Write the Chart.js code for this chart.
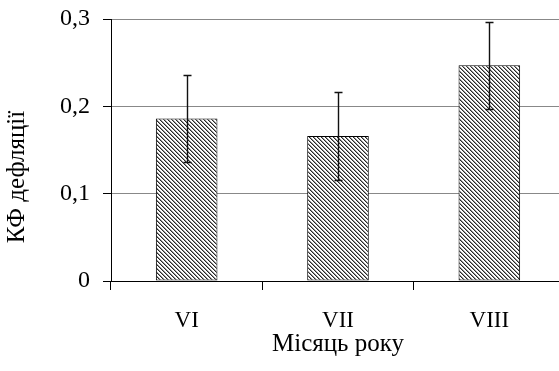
<!DOCTYPE html>
<html>
<head>
<meta charset="utf-8">
<script src="https://cdn.jsdelivr.net/npm/chart.js@4/dist/chart.umd.min.js"></script>
<style>
  html, body { margin: 0; padding: 0; background: #fff; overflow: hidden; }
  #wrap { width: 565px; height: 371px; }
</style>
</head>
<body>
<div id="wrap"><canvas id="c" width="565" height="371"></canvas></div>
<script>
// Deflation coefficient by month
const months = ['VI', 'VII', 'VIII'];
const kfValues = [0.186, 0.166, 0.247];
const kfErrors = [0.05, 0.05, 0.05];
const yTicks = [0, 0.1, 0.2, 0.3];

const FONT = "'Liberation Serif', 'Times New Roman', serif";

// Diagonal hatch fill (\\\ direction)
function makeHatch() {
  const t = document.createElement('canvas');
  t.width = 4; t.height = 4;
  const g = t.getContext('2d');
  const img = g.createImageData(4, 4);
  for (let y = 0; y < 4; y++) {
    for (let x = 0; x < 4; x++) {
      const d = ((x - y) % 4 + 4) % 4;
      let v = 255;
      if (d === 0) v = 40;
      else if (d === 1) v = 150;
      const i = (y * 4 + x) * 4;
      img.data[i] = v; img.data[i + 1] = v; img.data[i + 2] = v; img.data[i + 3] = 255;
    }
  }
  g.putImageData(img, 0, 0);
  return document.getElementById('c').getContext('2d').createPattern(t, 'repeat');
}

// Error bars drawn through the scales
const errorBars = {
  id: 'errorBars',
  afterDatasetsDraw(chart) {
    const ctx = chart.ctx;
    const meta = chart.getDatasetMeta(0);
    const y = chart.scales.y;
    ctx.save();
    ctx.strokeStyle = '#111';
    ctx.lineWidth = 1.4;
    meta.data.forEach((bar, i) => {
      const x = Math.round(bar.x) + 0.5;
      const top = Math.round(y.getPixelForValue(kfValues[i] + kfErrors[i])) + 0.5;
      const bot = Math.round(y.getPixelForValue(kfValues[i] - kfErrors[i])) + 0.5;
      ctx.beginPath();
      ctx.moveTo(x, top); ctx.lineTo(x, bot);
      ctx.moveTo(x - 4, top); ctx.lineTo(x + 4, top);
      ctx.moveTo(x - 4, bot); ctx.lineTo(x + 4, bot);
      ctx.stroke();
    });
    ctx.restore();
  }
};

// Vertical y-axis title
const yTitle = {
  id: 'yTitle',
  afterDraw(chart) {
    const ctx = chart.ctx;
    ctx.save();
    ctx.translate(17, 177);
    ctx.rotate(-Math.PI / 2);
    ctx.font = '25px ' + FONT;
    ctx.fillStyle = '#000';
    ctx.textAlign = 'center';
    ctx.textBaseline = 'middle';
    ctx.fillText('КФ дефляції', 0, 0);
    ctx.restore();
  }
};

new Chart(document.getElementById('c'), {
  type: 'bar',
  data: {
    labels: months,
    datasets: [{
      data: kfValues,
      backgroundColor: makeHatch(),
      borderColor: '#000',
      borderWidth: 1,
      borderSkipped: false,
      categoryPercentage: 1,
      barPercentage: 0.407
    }]
  },
  options: {
    responsive: false,
    animation: false,
    events: [],
    layout: { padding: { top: 19, right: 0, left: 0, bottom: 0 } },
    plugins: { legend: { display: false }, tooltip: { enabled: false } },
    scales: {
      x: {
        offset: true,
        grid: { offset: true, drawOnChartArea: false, tickLength: 9, tickColor: '#000', lineWidth: 1 },
        border: { color: '#000', width: 1 },
        ticks: { color: '#000', font: { family: FONT, size: 23 }, padding: 17 },
        title: { display: true, text: 'Місяць року', color: '#000', font: { family: FONT, size: 25 }, padding: { top: 0, bottom: 12 } },
        afterFit(s) { s.height = 90; }
      },
      y: {
        min: 0, max: 0.3,
        afterBuildTicks(s) { s.ticks = yTicks.map(v => ({ value: v })); },
        grid: { color: '#888', tickColor: '#000', tickLength: 8, lineWidth: 1 },
        border: { color: '#000', width: 1 },
        ticks: {
          color: '#000', font: { family: FONT, size: 24, lineHeight: 0.2 }, padding: 13,
          callback: v => String(v === 0 ? 0 : v.toFixed(1)).replace('.', ',')
        },
        afterFit(s) { s.width = 111; s.paddingTop = 0; s.paddingBottom = 0; }
      }
    }
  },
  plugins: [errorBars, yTitle]
});
</script>
</body>
</html>
